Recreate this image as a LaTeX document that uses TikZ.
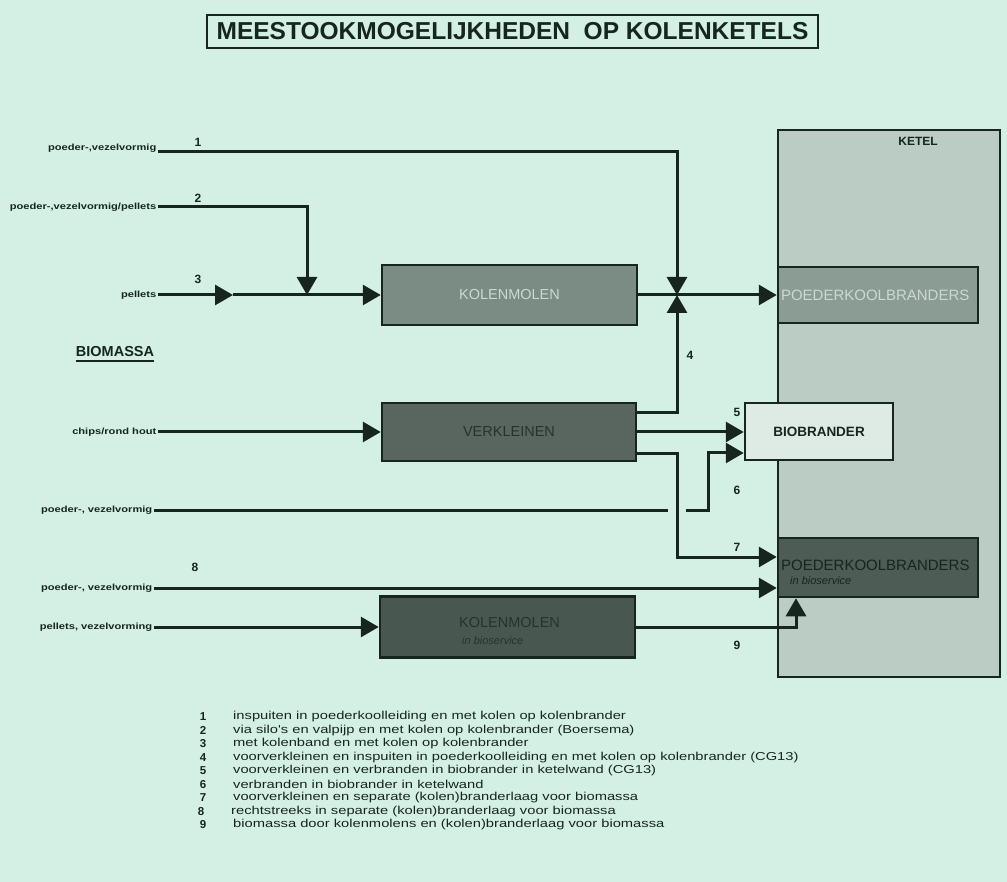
\documentclass[tikz,border=0pt]{standalone}
\usepackage{fontspec}
\setmainfont{Liberation Sans}
\newfontfamily\lblfont[FakeStretch=1.25]{Liberation Sans}
\newfontfamily\legfont[FakeStretch=1.28]{Liberation Sans}
\usetikzlibrary{arrows.meta,calc}
\definecolor{bgc}{RGB}{212,240,229}
\definecolor{ink}{RGB}{22,38,30}
\definecolor{ketelc}{RGB}{186,204,196}
\definecolor{pkbone}{RGB}{138,156,148}
\definecolor{kolmone}{RGB}{122,140,132}
\definecolor{verkc}{RGB}{88,102,95}
\definecolor{kolmtwo}{RGB}{72,88,80}
\definecolor{pkbtwo}{RGB}{78,92,86}
\definecolor{bioc}{RGB}{222,234,228}
\definecolor{lighttxt}{RGB}{205,216,210}
\definecolor{darktxt}{RGB}{40,50,45}
\begin{document}
\begin{tikzpicture}[x=1pt,y=-1pt,
  conn/.style={draw=ink,line width=3pt},
  arr/.style={-{Triangle[length=18pt,width=20pt]}},
  box/.style={draw=ink,line width=2.5pt,inner sep=0pt},
  boxtxt/.style={font=\fontsize{14.5}{17}\selectfont},
  lbl/.style={font=\lblfont\bfseries\fontsize{8.9}{10}\selectfont,anchor=east,inner sep=1.5pt,text=ink},
  num/.style={font=\bfseries\fontsize{12}{14}\selectfont,text=ink,inner sep=0pt},
  legnum/.style={font=\bfseries\fontsize{11.5}{13}\selectfont,text=ink,inner sep=0pt},
  legtxt/.style={font=\legfont\fontsize{11.5}{13}\selectfont,text=ink,inner sep=0pt,anchor=west},
  subtxt/.style={font=\itshape\fontsize{11}{13}\selectfont,inner sep=0pt,anchor=west}]
\fill[bgc] (0,0) rectangle (1007,882);
\useasboundingbox (0,0) rectangle (1007,882);

% title
\node[draw=ink,line width=2.5pt,minimum width=611pt,minimum height=33pt,inner sep=0pt,
  font=\bfseries\fontsize{24.5}{28}\selectfont,text=ink] (title) at (512.5,31.5)
  {MEESTOOKMOGELIJKHEDEN\ \ OP KOLENKETELS};

% ketel
\node[box,line width=2pt,fill=ketelc,minimum width=222pt,minimum height=547pt] (ketel) at (889,403.5) {};
\node[font=\bfseries\fontsize{12}{14}\selectfont,text=ink] (ketellbl) at (918,141) {KETEL};

% boxes
\node[box,fill=kolmone,minimum width=255pt,minimum height=60pt,boxtxt,text=lighttxt] (kolm1) at (509.5,295) {KOLENMOLEN};
\node[box,fill=verkc,minimum width=254pt,minimum height=58pt,boxtxt,text=darktxt] (verk) at (509,432) {VERKLEINEN};
\node[box,fill=kolmtwo,minimum width=255pt,minimum height=61pt] (kolm2) at (507.5,627) {};
\node[boxtxt,text=darktxt,inner sep=0pt,anchor=west] (kolm2t) at (459,623) {KOLENMOLEN};
\node[subtxt,text=darktxt] (kolm2s) at (462,641) {in bioservice};
\node[box,fill=pkbone,minimum height=56pt,text width=194pt,inner xsep=3pt,align=left,
  font=\fontsize{15}{17}\selectfont,text=lighttxt] (pkb1) at (878,295) {POEDERKOOLBRANDERS};
\node[box,fill=bioc,minimum width=148pt,minimum height=57pt,font=\bfseries\fontsize{13.5}{16}\selectfont,text=ink] (bio) at (819,431.5) {BIOBRANDER};
\node[box,fill=pkbtwo,minimum width=200pt,minimum height=59pt] (pkb2) at (878,567.5) {};
\node[font=\fontsize{15}{17}\selectfont,text=ink,inner sep=0pt,anchor=west] (pkb2t) at (781,565) {POEDERKOOLBRANDERS};
\node[subtxt,text=ink] (pkb2s) at (790,581) {in bioservice};

% labels
\node[lbl] (l1) at (158,148) {poeder-,vezelvormig};
\node[lbl] (l2) at (158,207) {poeder-,vezelvormig/pellets};
\node[lbl] (l3) at (158,295) {pellets};
\node[lbl] (lc) at (158,432) {chips/rond hout};
\node[lbl] (l6) at (154,510) {poeder-, vezelvormig};
\node[lbl] (l8) at (154,588) {poeder-, vezelvormig};
\node[lbl] (lp) at (154,627) {pellets, vezelvorming};
\node[font=\bfseries\fontsize{14.5}{17}\selectfont,text=ink,inner sep=0pt] (bm) at (115,352) {BIOMASSA};
\draw[ink,line width=2pt] ([yshift=-4pt]bm.south west) -- ([yshift=-4pt]bm.south east);

% numbers
\node[num] (n1) at (198,142) {1};
\node[num] (n2) at (198,198) {2};
\node[num] (n3) at (198,279) {3};
\node[num] (n4) at (690,355) {4};
\node[num] (n5) at (737,412) {5};
\node[num] (n6) at (737,490) {6};
\node[num] (n7) at (737,547) {7};
\node[num] (n8) at (195,567) {8};
\node[num] (n9) at (737,645) {9};

% junction coordinates
\coordinate (m3) at (233,295);
\coordinate (j2) at (307,295);
\coordinate (jn) at (677,295);
\coordinate (c7) at (677,557);
\coordinate (g6a) at (668,510);
\coordinate (g6b) at (686,510);
\coordinate (c6) at (708,453);

% connectors
\draw[conn,arr] ([yshift=-4pt]l1.east) -| (jn);
\draw[conn,arr] (l2.east) -| (j2);
\draw[conn,arr] (l3.east) -- (m3);
\draw[conn,arr] (m3) -- (kolm1.west);
\draw[conn,arr] (kolm1.east) -- (pkb1.west);
\draw[conn,arr] ([yshift=19pt]verk.east) -| (jn);
\draw[conn,arr] (lc.east) -- (verk.west);
\draw[conn,arr] (verk.east) -- (verk.east -| bio.west);
\draw[conn] (l6.east) -- (g6a);
\draw[conn,arr] (g6b) -| (c6) -- ([yshift=-21.5pt]bio.west);
\draw[conn,arr] ([yshift=-22pt]verk.east) -| (c7) -- (c7 -| pkb2.west);
\draw[conn,arr] (l8.east) -- (l8.east -| pkb2.west);
\draw[conn,arr] (lp.east) -- (kolm2.west);
\draw[conn,arr] (kolm2.east) -| ([xshift=-82pt]pkb2.south);

% legend
\node[legnum] (ln1) at (203,717) {1}; \node[legtxt] (lt1) at (233,717) {inspuiten in poederkoolleiding en met kolen op kolenbrander};
\node[legnum] (ln2) at (203,730.5) {2}; \node[legtxt] (lt2) at (233,730.5) {via silo's en valpijp en met kolen op kolenbrander (Boersema)};
\node[legnum] (ln3) at (203,744) {3}; \node[legtxt] (lt3) at (233,744) {met kolenband en met kolen op kolenbrander};
\node[legnum] (ln4) at (203,757.5) {4}; \node[legtxt] (lt4) at (233,757.5) {voorverkleinen en inspuiten in poederkoolleiding en met kolen op kolenbrander (CG13)};
\node[legnum] (ln5) at (203,771) {5}; \node[legtxt] (lt5) at (233,771) {voorverkleinen en verbranden in biobrander in ketelwand (CG13)};
\node[legnum] (ln6) at (203,784.5) {6}; \node[legtxt] (lt6) at (233,784.5) {verbranden in biobrander in ketelwand};
\node[legnum] (ln7) at (203,798) {7}; \node[legtxt] (lt7) at (233,798) {voorverkleinen en separate (kolen)branderlaag voor biomassa};
\node[legnum] (ln8) at (201,811.5) {8}; \node[legtxt] (lt8) at (231,811.5) {rechtstreeks in separate (kolen)branderlaag voor biomassa};
\node[legnum] (ln9) at (203,825) {9}; \node[legtxt] (lt9) at (233,825) {biomassa door kolenmolens en (kolen)branderlaag voor biomassa};
\end{tikzpicture}
\end{document}
